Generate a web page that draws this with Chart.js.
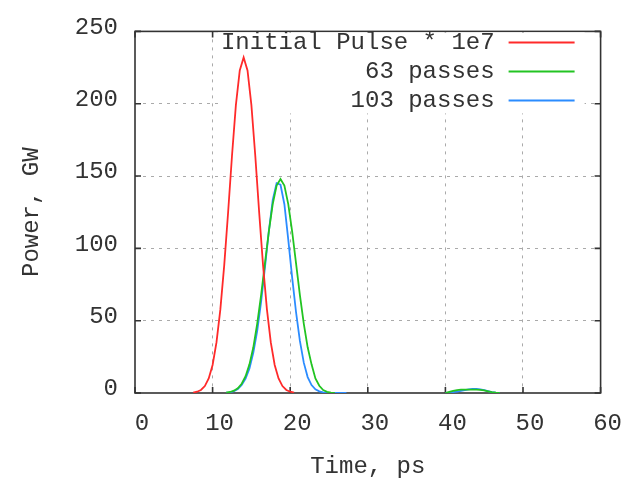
<!DOCTYPE html>
<html lang="en">
<head>
  <meta charset="UTF-8">
  <title>Power vs time</title>
  <script src="https://cdn.jsdelivr.net/npm/chart.js"></script>
  <style>
    html, body { margin: 0; padding: 0; background: #fff; }
  </style>
</head>
<body>
  <canvas id="chartPower" width="631" height="479"></canvas>
  <script>
    // Data (time in ps, power in GW)
    const etiquetas = ['Initial Pulse * 1e7', '63 passes', '103 passes'];
    const colores = ['#ff2a2a', '#22c422', '#2b8cff'];

    const tiempoInicial = [7.5, 8, 8.5, 9, 9.5, 10, 10.5, 11, 11.5, 12, 12.5, 13, 13.5, 14,
      14.5, 15, 15.5, 16, 16.5, 17, 17.5, 18, 18.5, 19, 19.5, 20, 20.5];
    const pulsoInicial = [0.3, 0.9, 2.1, 4.8, 10.1, 19.4, 35, 57.8, 88.4, 125, 164, 199, 223, 232,
      223, 199, 164, 125, 88.4, 57.8, 35, 19.4, 10.1, 4.8, 2.1, 0.9, 0.3];

    const tiempo63 = [11.75, 12.25, 12.75, 13.25, 13.75, 14.25, 14.75, 15.25, 15.75, 16.25, 16.75, 17.25, 17.75, 18.25, 18.75,
      19.25, 19.75, 20.25, 20.75, 21.25, 21.75, 22.25, 22.75, 23.25, 23.75, 24.25, 24.75, 25.25, 25.75,
      33,
      40, 40.5, 41, 41.5, 42, 42.5, 43, 43.5, 44, 44.5, 45, 45.5, 46, 46.5, 47];
    const pasadas63 = [0.3, 0.7, 1.6, 3.3, 6.4, 11.6, 19.8, 31.6, 48, 67.7, 89.8, 111.7, 130.6, 143.4, 148,
      143.4, 130.6, 111.7, 89.8, 67.7, 48, 31.6, 19.8, 10, 5, 2, 0.8, 0.2, 0,
      null,
      0, 0.8, 1.5, 2, 2.3, 2.4, 2.4, 2.3, 2.3, 2.2, 1.8, 1.2, 0.6, 0.2, 0];

    const tiempo103 = [11.75, 12.25, 12.75, 13.25, 13.75, 14.25, 14.75, 15.25, 15.75, 16.25, 16.75, 17.25, 17.75, 18.25, 18.75,
      19.25, 19.75, 20.25, 20.75, 21.25, 21.75, 22.25, 22.75, 23.25, 23.75, 24.25, 24.75, 25.25, 25.75, 26.25, 26.75, 27.25,
      33,
      40, 40.5, 41, 41.5, 42, 42.5, 43, 43.5, 44, 44.5, 45, 45.5, 46, 46.5, 47];
    const pasadas103 = [0.2, 0.5, 1.2, 2.8, 5.5, 10, 17, 28, 43, 63, 87, 112, 133.5, 145, 144,
      130.5, 106, 80, 56, 36, 21, 11, 5.5, 2.5, 1.1, 0.5, 0.2, 0, 0, 0, 0, 0,
      null,
      0, 0.3, 0.6, 1, 1.5, 2, 2.5, 2.8, 2.8, 2.5, 2, 1.3, 0.6, 0.2, 0];

    const ticksX = [0, 10, 20, 30, 40, 50, 60];
    const ticksY = [0, 50, 100, 150, 200, 250];

    const fuente = '"Liberation Mono", "DejaVu Sans Mono", monospace';
    const colorTexto = '#333';

    function puntos(xs, ys) {
      return xs.map((x, i) => ({ x: x, y: ys[i] }));
    }

    // Frame with inward ticks on all four sides (gnuplot style) + key box
    const marco = {
      id: 'marco',
      beforeDatasetsDraw(chart) {
        const { ctx, chartArea: a, scales } = chart;
        ctx.save();
        ctx.strokeStyle = '#333';
        ctx.lineWidth = 1.6;
        ctx.strokeRect(a.left, a.top, a.right - a.left, a.bottom - a.top);
        ctx.beginPath();
        ticksX.forEach(v => {
          const px = scales.x.getPixelForValue(v);
          ctx.moveTo(px, a.bottom); ctx.lineTo(px, a.bottom - 6);
          ctx.moveTo(px, a.top); ctx.lineTo(px, a.top + 6);
        });
        ticksY.forEach(v => {
          const py = scales.y.getPixelForValue(v);
          ctx.moveTo(a.left, py); ctx.lineTo(a.left + 6, py);
          ctx.moveTo(a.right, py); ctx.lineTo(a.right - 6, py);
        });
        ctx.stroke();

        // legend box in the top right corner
        const derecha = a.right - 16;
        ctx.fillStyle = '#fff';
        ctx.fillRect(a.left + 83, a.top + 1, derecha - (a.left + 83), 81);
        ctx.font = '24px ' + fuente;
        ctx.textAlign = 'right';
        ctx.textBaseline = 'middle';
        etiquetas.forEach((t, i) => {
          const y = a.top + 11 + i * 29;
          ctx.fillStyle = colorTexto;
          ctx.fillText(t, derecha - 90, y);
          ctx.strokeStyle = colores[i];
          ctx.lineWidth = 2;
          ctx.beginPath();
          ctx.moveTo(derecha - 76, y);
          ctx.lineTo(derecha - 10, y);
          ctx.stroke();
        });
        ctx.restore();
      }
    };

    const ctxPower = document.getElementById('chartPower').getContext('2d');
    const chartPower = new Chart(ctxPower, {
      type: 'scatter',
      data: {
        datasets: [
          { label: etiquetas[0], data: puntos(tiempoInicial, pulsoInicial), borderColor: colores[0] },
          { label: etiquetas[1], data: puntos(tiempo63, pasadas63), borderColor: colores[1] },
          { label: etiquetas[2], data: puntos(tiempo103, pasadas103), borderColor: colores[2] }
        ]
      },
      options: {
        responsive: false,
        animation: false,
        devicePixelRatio: 1,
        layout: { padding: { top: 30, right: 27, left: 0, bottom: 0 } },
        datasets: {
          scatter: { showLine: true, pointRadius: 0, borderWidth: 1.8, tension: 0, spanGaps: false }
        },
        plugins: {
          legend: { display: false },
          tooltip: { enabled: false }
        },
        scales: {
          x: {
            type: 'linear',
            min: 0, max: 60,
            afterFit: s => { s.height = 86; },
            afterBuildTicks: s => { s.ticks = ticksX.map(v => ({ value: v })); },
            ticks: { color: colorTexto, font: { family: fuente, size: 24 }, padding: 16, maxRotation: 0, labelOffset: 7 },
            grid: {
              drawTicks: false,
              color: c => (c.index === 0 || c.index === ticksX.length - 1) ? 'rgba(0,0,0,0)' : '#aaa'
            },
            border: { display: false, dash: [3, 5] },
            title: {
              display: true, text: 'Time, ps', color: colorTexto,
              font: { family: fuente, size: 24, lineHeight: 1 }, padding: { top: 0, bottom: 0 }
            }
          },
          y: {
            type: 'linear',
            min: 0, max: 250,
            afterFit: s => { s.width = 135; },
            afterBuildTicks: s => { s.ticks = ticksY.map(v => ({ value: v })); },
            ticks: { color: colorTexto, font: { family: fuente, size: 24 }, padding: 17, labelOffset: -4 },
            grid: {
              drawTicks: false,
              color: c => (c.index === 0 || c.index === ticksY.length - 1) ? 'rgba(0,0,0,0)' : '#aaa'
            },
            border: { display: false, dash: [3, 5] },
            title: {
              display: true, text: 'Power, GW', color: colorTexto,
              font: { family: fuente, size: 24, lineHeight: 1 }, padding: { top: 20, bottom: 0 }
            }
          }
        }
      },
      plugins: [marco]
    });
  </script>
</body>
</html>
